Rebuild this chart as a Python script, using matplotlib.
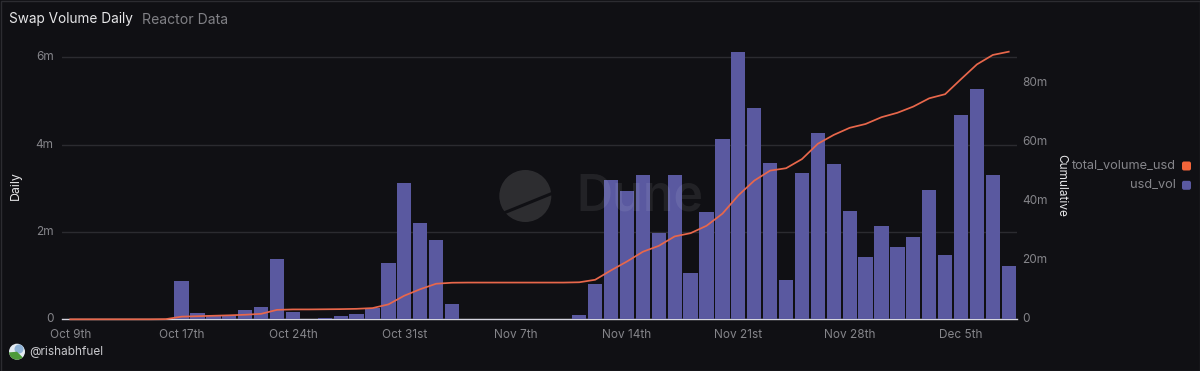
import matplotlib
matplotlib.use("Agg")
import matplotlib.pyplot as plt
import matplotlib.patches as patches

tick_pos = [0, 7, 14, 21, 28, 35, 42, 49, 56]
tick_labels = ["Oct 9th", "Oct 17th", "Oct 24th", "Oct 31st", "Nov 7th",
               "Nov 14th", "Nov 21st", "Nov 28th", "Dec 5th"]

# daily volume, in millions
usd_vol = [0, 0, 0, 0, 0, 0, 0, 0.885, 0.145, 0.09,
           0.09, 0.22, 0.275, 1.39, 0.16, 0.005, 0.04, 0.07, 0.115, 0.27,
           1.28, 3.12, 2.2, 1.82, 0.36, 0, 0, 0, 0, 0,
           0, 0.005, 0.105, 0.81, 3.2, 2.93, 3.3, 1.985, 3.3, 1.07,
           2.46, 4.13, 6.13, 4.84, 3.57, 0.91, 3.34, 4.27, 3.56, 2.49,
           1.42, 2.14, 1.66, 1.89, 2.95, 1.47, 4.69, 5.27, 3.31, 1.21]

# cumulative volume, in millions
total_volume_usd = [0, 0, 0, 0, 0, 0, 0.05, 0.9, 1.05, 1.2,
                    1.35, 1.55, 1.85, 3.2, 3.35, 3.35, 3.4, 3.45, 3.55, 3.8,
                    5.05, 8.0, 10.2, 12.05, 12.4, 12.45, 12.45, 12.45, 12.45, 12.45,
                    12.45, 12.45, 12.55, 13.4, 16.6, 19.6, 22.9, 24.9, 28.1, 29.2,
                    31.7, 35.8, 42.0, 47.0, 50.4, 51.2, 54.3, 59.5, 62.5, 64.9,
                    66.2, 68.5, 70.0, 72.1, 74.9, 76.3, 81.4, 86.4, 89.6, 90.7]

days = list(range(len(usd_vol)))

BG = "#101014"
BAR = "#5a59a0"
LINE = "#e8674b"
GREY = "#85858a"
LIGHT = "#e6e6e8"

plt.rcParams["font.family"] = ["Inter", "DejaVu Sans"]

W, H = 1200, 371
fig = plt.figure(figsize=(W / 100, H / 100), dpi=100, facecolor=BG)

left, right, top, bottom = 62.3, 1016.7, 24.0, 319.3
ax = fig.add_axes([left / W, 1 - bottom / H, (right - left) / W, (bottom - top) / H])
ax.set_facecolor(BG)
ymax = 6 * (bottom - top) / (bottom - 57.3)

ax.bar(days, usd_vol, width=0.9, color=BAR, zorder=3)
ax.set_xlim(-0.5, 59.5)
ax.set_ylim(0, ymax)
ax.set_yticks([0, 2, 4, 6], ["0", "2m", "4m", "6m"])
ax.set_xticks(tick_pos, tick_labels)
ax.tick_params(axis="both", length=0, colors=GREY, labelsize=8.5)
ax.tick_params(axis="x", pad=7)
ax.tick_params(axis="y", pad=6.2)
ax.grid(axis="y", color="#2b2b30", linewidth=1, zorder=0)
for s in ax.spines.values():
    s.set_visible(False)
ax.axhline(0, color="#d4d4de", linewidth=1, zorder=2, clip_on=False)

ax2 = ax.twinx()
ax2.plot(days, total_volume_usd, color=LINE, linewidth=1.25, zorder=5,
         solid_joinstyle="round", clip_on=False)
ax2.set_ylim(0, ymax * 88.8 / 6)
ax2.set_yticks([0, 20, 40, 60, 80], ["0", "20m", "40m", "60m", "80m"])
ax2.tick_params(axis="y", length=0, colors=GREY, labelsize=8.5, pad=4.2)
for s in ax2.spines.values():
    s.set_visible(False)
for lab in ax.get_yticklabels() + ax2.get_yticklabels():
    lab.set_verticalalignment("center")

# pixel overlay for title, legend, watermark and avatar
ov = fig.add_axes([0, 0, 1, 1], facecolor="none", zorder=10)
ov.set_xlim(0, W)
ov.set_ylim(H, 0)
ov.axis("off")

ov.add_patch(patches.Rectangle((0.5, 0.5), W - 1, H - 1, fill=False, edgecolor="#2c2c31", linewidth=1))

ov.text(9.3, 19.5, "Swap Volume Daily", color=LIGHT, fontsize=9.8, va="center")
ov.text(142, 19.5, "Reactor Data", color="#808085", fontsize=10.1, va="center")
ov.text(16, 185.5, "Daily", color=LIGHT, fontsize=8.9, rotation=90, ha="center", va="center")
ov.text(1061.5, 185.5, "Cumulative", color=LIGHT, fontsize=8.5, rotation=-90, ha="center", va="center")

ov.text(1176, 166, "total_volume_usd", color=GREY, fontsize=9.2, ha="right", va="center")
ov.text(1176, 185.3, "usd_vol", color=GREY, fontsize=9.2, ha="right", va="center")
for yy, c in [(166, "#f2653a"), (185.3, BAR)]:
    ov.add_patch(patches.FancyBboxPatch((1183, yy - 3.5), 7, 7, boxstyle="round,pad=1,rounding_size=2",
                                        facecolor=c, edgecolor="none"))

# watermark
ov.add_patch(patches.Circle((525.3, 196), 26, facecolor="white", edgecolor="none", alpha=0.12, zorder=1))
ov.plot([505, 553], [212.5, 193], color=BG, linewidth=2.2, zorder=2)
ov.text(576, 197, "Dune", color="white", alpha=0.08, fontsize=36, va="center", fontweight="semibold", zorder=1)

# avatar and handle
ov.add_patch(patches.Circle((17, 351.7), 8, facecolor="#e4ebf2", edgecolor="none"))
ov.add_patch(patches.Circle((19, 349), 4.5, facecolor="#8fb3d6", edgecolor="none"))
ov.add_patch(patches.Wedge((17, 351.7), 8, 45, 175, facecolor="#4d9a3a", edgecolor="none"))
ov.text(29.7, 351.7, "@rishabhfuel", color="#c8c8cc", fontsize=8.5, va="center")

fig.savefig("out.png", dpi=100, facecolor=BG)
